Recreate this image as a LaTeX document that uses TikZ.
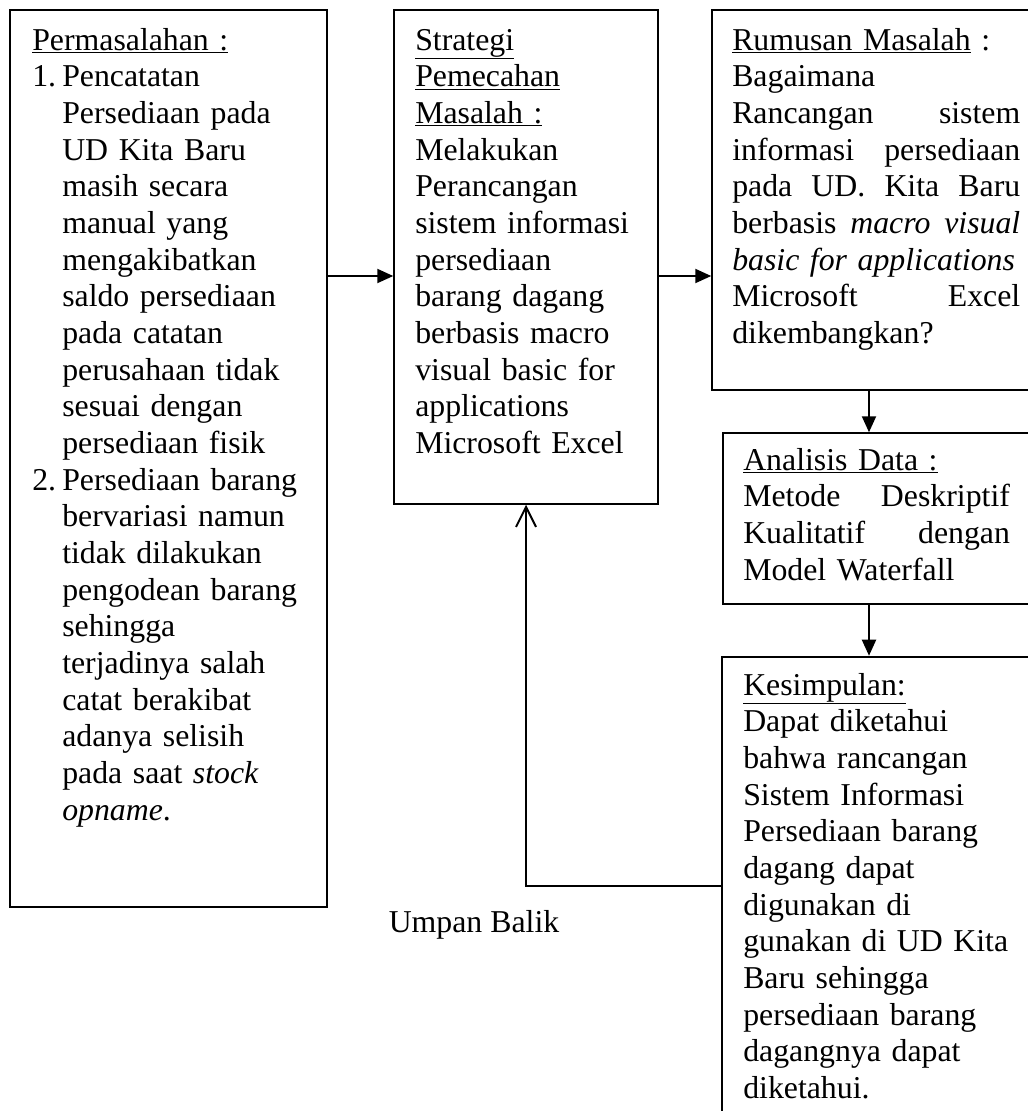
\documentclass[tikz,border=0pt]{standalone}
\usepackage{fontspec}
\setmainfont{Liberation Serif}
\usetikzlibrary{arrows.meta,fit}
\newcommand{\jl}[2]{\leavevmode\hbox to #1{#2}}
\newcommand{\ind}{\hspace*{22.5pt}}
\begin{document}
\begin{tikzpicture}[x=0.75pt,y=-0.75pt,
  box/.style={draw,line width=1.1pt,inner sep=0pt},
  txt/.style={anchor=base west,inner sep=0pt,align=left,font=\fontsize{23.85pt}{27.5pt}\selectfont},
  arr/.style={line width=1.5pt,-{Triangle[length=12pt,width=10.5pt]}},
  fbarr/.style={line width=1.5pt,-{Straight Barb[length=15pt,width=15pt,line width=1.5pt]}}
]
\clip (0,0) rectangle (1028,1111);
% boxes
\node[box,fit={(10,10) (327,907)}] (b1) {};
\node[box,fit={(394,10) (658,504)}] (b2) {};
\node[box,fit={(712,10) (1045,390)}] (b3) {};
\node[box,fit={(723,433) (1055,604)}] (b4) {};
\node[box,line width=1.9pt,fit={(722,657) (1055,1140)}] (b5) {};
% texts
\node[txt,text width=220pt] (t1) at (32,50) {%
\underline{Permasalahan :}\\
\makebox[22.5pt][l]{1.}Pencatatan\\
\ind Persediaan pada\\
\ind UD Kita Baru\\
\ind masih secara\\
\ind manual yang\\
\ind mengakibatkan\\
\ind saldo persediaan\\
\ind pada catatan\\
\ind perusahaan tidak\\
\ind sesuai dengan\\
\ind persediaan fisik\\
\makebox[22.5pt][l]{2.}Persediaan barang\\
\ind bervariasi namun\\
\ind tidak dilakukan\\
\ind pengodean barang\\
\ind sehingga\\
\ind terjadinya salah\\
\ind catat berakibat\\
\ind adanya selisih\\
\ind pada saat \textit{stock}\\
\ind \textit{opname}.};
\node[txt,text width=180pt] (t2) at (415,50) {%
\underline{Strategi}\\
\underline{Pemecahan}\\
\underline{Masalah :}\\
Melakukan\\
Perancangan\\
sistem informasi\\
persediaan\\
barang dagang\\
berbasis macro\\
visual basic for\\
applications\\
Microsoft Excel};
\node[txt,text width=216pt] (t3) at (732,50) {%
\underline{Rumusan Masalah} :\\
Bagaimana\\
\jl{216pt}{Rancangan\hfill sistem}\\
\jl{216pt}{informasi\hfill persediaan}\\
\jl{216pt}{pada\hfill UD.\hfill Kita\hfill Baru}\\
\jl{216pt}{berbasis\hfill \textit{macro}\hfill \textit{visual}}\\
\textit{basic for applications}\\
\jl{216pt}{Microsoft\hfill Excel}\\
dikembangkan?};
\node[txt,text width=200pt] (t4) at (743,470) {%
\underline{Analisis Data :}\\
\jl{200pt}{Metode\hfill Deskriptif}\\
\jl{200pt}{Kualitatif\hfill dengan}\\
Model Waterfall};
\node[txt,text width=210pt] (t5) at (743,695) {%
\underline{Kesimpulan:}\\
Dapat diketahui\\
bahwa rancangan\\
Sistem Informasi\\
Persediaan barang\\
dagang dapat\\
digunakan di\\
gunakan di UD Kita\\
Baru sehingga\\
persediaan barang\\
dagangnya dapat\\
diketahui.};
\node[txt,anchor=base] (ub) at (474,932) {Umpan Balik};
% connectors
\coordinate (h1) at (0,276);
\coordinate (v1) at (869,0);
\coordinate (fby) at (0,886);
\coordinate (fbx) at (526,0);
\draw[arr] (b1.east |- h1) -- (b2.west |- h1);
\draw[arr] (b2.east |- h1) -- (b3.west |- h1);
\draw[arr] (b3.south -| v1) -- (b4.north -| v1);
\draw[arr] (b4.south -| v1) -- (b5.north -| v1);
\draw[fbarr] (b5.west |- fby) -- (fbx |- fby) -- (b2.south -| fbx);
\end{tikzpicture}
\end{document}
